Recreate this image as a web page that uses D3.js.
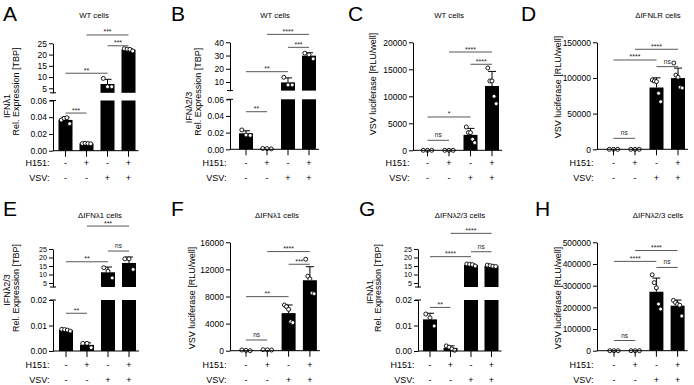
<!DOCTYPE html>
<html><head><meta charset="utf-8">
<script src="https://cdn.jsdelivr.net/npm/d3@7"></script>
<style>body{margin:0;background:#fff}svg{display:block}text{font-family:"Liberation Sans",Arial,sans-serif}</style>
</head><body><svg id="c" width="694" height="385"></svg>
<script>
// ---------- DATA ----------
const groups = ["g1","g2","g3","g4"];
const h151Signs = ["-","+","-","+"];
const vsvSigns = ["-","-","+","+"];

const A_mean = [0.0368, 0.0085, 6.9, 22.2];
const A_sd = [0.0032, 0.0003, 2.1, 0.4];
const A_points = [[0.0367,0.0387,0.0394,0.0323],[0.0085,0.0088,0.0086,0.0082],[9.4,5.7,5.7],[22.6,22.4,22.3,21.6]];
const A_sig = [[0,1,"***",0.045],[0,2,"**",11.7],[1,3,"***",28.7],[2,3,"***",23.9]];
const A_lowTicks = [0,0.02,0.04,0.06];
const A_upTicks = [5,10,15,20,25];

const B_mean = [0.0192, 0.0008, 9.7, 29.9];
const B_sd = [0.003, 0.0002, 3.4, 2.2];
const B_points = [[0.0232,0.0172,0.0167],[0.001,0.0008,0.0005],[13.6,7.8,7.8],[31.8,30.5,27.5]];
const B_sig = [[0,1,"**",0.0451],[0,2,"**",17.8],[1,3,"****",46],[2,3,"***",36.2]];
const B_lowTicks = [0,0.02,0.04,0.06];
const B_upTicks = [10,20,30,40];

const C_mean = [25, 25, 2860, 11910];
const C_sd = [0, 0, 1200, 2700];
const C_points = [[0,0,0],[0,0,0],[4320,3270,3270,2040,1420],[15250,12840,12840,10000,8640]];
const C_sig = [[0,1,"ns",1850],[0,2,"*",6170],[1,3,"****",18200],[2,3,"****",15930]];
const C_ticks = [0,5000,10000,15000,20000];

const D_mean = [100, 100, 86600, 99800];
const D_sd = [0, 0, 13600, 14000];
const D_points = [[0,0,0],[0,0,0],[97200,95800,94900,78500,66800],[121000,104000,101000,87000,86000]];
const D_sig = [[0,1,"ns",15400],[0,2,"****",125200],[1,3,"****",140200],[2,3,"ns",115900]];
const D_ticks = [0,50000,100000,150000];

const E_mean = [0.0082, 0.0024, 11.3, 16.8];
const E_sd = [0.0003, 0.0008, 3.1, 3.5];
const E_points = [[0.0085,0.0084,0.0082,0.0078],[0.003,0.003,0.0013],[14,12,8],[19.2,19.2,13]];
const E_sig = [[0,1,"**",0.0148],[0,2,"**",17.5],[1,3,"***",38.5],[2,3,"ns",23.8]];
const E_lowTicks = [0,0.01,0.02];
const E_upTicks = [5,10,15,20,25];

const F_mean = [60, 120, 5550, 10400];
const F_sd = [0, 0, 1200, 2000];
const F_points = [[100,50,0],[150,120,100],[6750,6500,6100,4280,4140],[13500,11000,10600,8500,8400]];
const F_sig = [[0,1,"ns",1580],[0,2,"**",7980],[1,3,"****",14630],[2,3,"***",12760]];
const F_ticks = [0,4000,8000,12000,16000];

const G_mean = [0.0124, 0.0012, 15.6, 15.0];
const G_sd = [0.0024, 0.0008, 0.5, 0.35];
const G_points = [[0.0145,0.013,0.0098],[0.002,0.0015,0.0008,0.0003],[16.2,16,15.8,15],[15.5,15.2,14.9,14.7]];
const G_sig = [[0,1,"**",0.0171],[0,2,"****",20.5],[1,3,"****",34.2],[2,3,"ns",23.4]];
const G_lowTicks = [0,0.01,0.02];
const G_upTicks = [5,10,15,20,25];

const H_mean = [500, 500, 272000, 207600];
const H_sd = [0, 0, 63000, 26000];
const H_points = [[0,0,0],[0,0,0],[350000,314000,290000,215000,192000],[232000,222000,214000,210000,160000]];
const H_sig = [[0,1,"ns",47000],[0,2,"****",412000],[1,3,"****",462000],[2,3,"ns",384000]];
const H_ticks = [0,100000,200000,300000,400000,500000];

const panelLetters = ["A","B","C","D","E","F","G","H"];
const panelTitles = ["WT cells","WT cells","WT cells","ΔIFNLR cells","ΔIFNλ1 cells","ΔIFNλ1 cells","ΔIFNλ2/3 cells","ΔIFNλ2/3 cells"];
const yTitles = [
  ["IFNλ1","Rel. Expression [TBP]"],
  ["IFNλ2/3","Rel. Expression [TBP]"],
  ["VSV luciferase [RLU/well]"],
  ["VSV luciferase [RLU/well]"],
  ["IFNλ2/3","Rel. Expression [TBP]"],
  ["VSV luciferase [RLU/well]"],
  ["IFNλ1","Rel. Expression [TBP]"],
  ["VSV luciferase [RLU/well]"]
];

// ---------- LAYOUT ----------
const layouts = [
  {broken:true, mean:A_mean, sd:A_sd, pts:A_points, sig:A_sig, lowTicks:A_lowTicks, upTicks:A_upTicks, lowMax:0.06, upMin:3, upMax:25,
   axisX:53, x0:65.5, step:21, yBottom:150.7, lowTop:100.5, upBottom:92.8, upTop:43.3, upFont:8.5,
   letterX:3, letterY:21, titleX:94, titleY:15, ytX:[7,15.7], ytY:[106,91.5], rowY:[163,178]},
  {broken:true, mean:B_mean, sd:B_sd, pts:B_points, sig:B_sig, lowTicks:B_lowTicks, upTicks:B_upTicks, lowMax:0.06, upMin:3.5, upMax:40,
   axisX:230, x0:246, step:21, yBottom:149.3, lowTop:99.3, upBottom:90.6, upTop:42.3, upFont:8.5,
   letterX:171, letterY:21, titleX:275, titleY:15, ytX:[189.3,197.7], ytY:[107.5,91.7], rowY:[163,178]},
  {broken:false, mean:C_mean, sd:C_sd, pts:C_points, sig:C_sig, ticks:C_ticks, max:20000,
   axisX:413, x0:427.5, step:21.5, yBottom:150.3, yTop:42.3,
   letterX:348, letterY:21, titleX:449, titleY:15, ytX:[373], ytY:[84], rowY:[163,178]},
  {broken:false, mean:D_mean, sd:D_sd, pts:D_points, sig:D_sig, ticks:D_ticks, max:150000,
   axisX:597, x0:613.5, step:21.5, yBottom:149.3, yTop:42.3,
   letterX:521, letterY:21, titleX:658, titleY:15, ytX:[557.7], ytY:[87], rowY:[163,178]},
  {broken:true, mean:E_mean, sd:E_sd, pts:E_points, sig:E_sig, lowTicks:E_lowTicks, upTicks:E_upTicks, lowMax:0.02, upMin:2.65, upMax:25,
   axisX:53, x0:66, step:21, yBottom:351, lowTop:300, upBottom:287, upTop:249, upFont:7.2,
   letterX:3, letterY:216, titleX:100, titleY:215, ytX:[6.7,15.7], ytY:[290,288], rowY:[365,380]},
  {broken:false, mean:F_mean, sd:F_sd, pts:F_points, sig:F_sig, ticks:F_ticks, max:16000,
   axisX:230, x0:246, step:21.3, yBottom:350.7, yTop:242.3,
   letterX:171, letterY:216, titleX:277, titleY:215, ytX:[191.7], ytY:[298], rowY:[365,380]},
  {broken:true, mean:G_mean, sd:G_sd, pts:G_points, sig:G_sig, lowTicks:G_lowTicks, upTicks:G_upTicks, lowMax:0.02, upMin:2.65, upMax:25,
   axisX:418, x0:430, step:20.5, yBottom:351, lowTop:300, upBottom:287, upTop:249, upFont:7.2,
   letterX:359, letterY:216, titleX:460, titleY:215, ytX:[370,378.3], ytY:[292,288], rowY:[365,380]},
  {broken:false, mean:H_mean, sd:H_sd, pts:H_points, sig:H_sig, ticks:H_ticks, max:500000,
   axisX:597, x0:614, step:21.2, yBottom:350.7, yTop:242.3,
   letterX:535, letterY:216, titleX:658, titleY:215, ytX:[558], ytY:[298], rowY:[365,380]}
];

const svg = d3.select("#c");
const BW = 14;

function styleAxis(sel, fs){
  sel.select(".domain").attr("stroke","#000").attr("stroke-width",1);
  sel.selectAll(".tick line").attr("stroke","#000");
  sel.selectAll(".tick text").attr("font-family","'Liberation Sans',Arial,sans-serif").attr("font-size",fs || 8.5).attr("fill","#000");
  sel.attr("font-family",null).attr("font-size",null);
}

layouts.forEach((L, pi) => {
  const g = svg.append("g");
  const x = d3.scalePoint().domain(groups).range([L.x0, L.x0 + 3*L.step]);
  let yOf, yLow, yUp, y;
  if (L.broken) {
    yLow = d3.scaleLinear().domain([0, L.lowMax]).range([L.yBottom, L.lowTop]);
    yUp = d3.scaleLinear().domain([L.upMin, L.upMax]).range([L.upBottom, L.upTop]);
    yOf = v => v <= L.lowMax ? yLow(v) : yUp(v);
  } else {
    y = d3.scaleLinear().domain([0, L.max]).range([L.yBottom, L.yTop]);
    yOf = y;
  }
  // bars
  L.mean.forEach((m, i) => {
    const cx = x(groups[i]);
    if (L.broken && m > L.lowMax) {
      g.append("rect").attr("x", cx-BW/2).attr("width", BW).attr("y", L.lowTop).attr("height", L.yBottom-L.lowTop).attr("fill","#000");
      g.append("rect").attr("x", cx-BW/2).attr("width", BW).attr("y", yUp(m)).attr("height", L.upBottom-yUp(m)).attr("fill","#000");
    } else {
      const top = yOf(m);
      g.append("rect").attr("x", cx-BW/2).attr("width", BW).attr("y", top).attr("height", L.yBottom-top).attr("fill","#000");
    }
    const sd = L.sd[i];
    if (sd > 0) {
      const y1 = yOf(m), y2 = yOf(m+sd);
      if (Math.abs(y1-y2) > 0.8) {
        g.append("line").attr("x1",cx).attr("x2",cx).attr("y1",y1).attr("y2",y2).attr("stroke","#000").attr("stroke-width",1);
        g.append("line").attr("x1",cx-4).attr("x2",cx+4).attr("y1",y2).attr("y2",y2).attr("stroke","#000").attr("stroke-width",1);
      }
    }
  });
  // dots
  L.pts.forEach((arr, i) => {
    const cx = x(groups[i]);
    const n = arr.length;
    arr.forEach((v, k) => {
      const off = n > 1 ? -4.2 + 8.4*k/(n-1) : 0;
      g.append("circle").attr("cx", cx+off).attr("cy", yOf(v)).attr("r", 2)
        .attr("fill","#fff").attr("stroke","#000").attr("stroke-width",0.9);
    });
  });
  // y axes
  if (L.broken) {
    const al = g.append("g").attr("transform",`translate(${L.axisX},0)`)
      .call(d3.axisLeft(yLow).tickValues(L.lowTicks).tickFormat(d3.format(".2f")).tickSize(4).tickSizeOuter(0).tickPadding(2));
    styleAxis(al);
    const au = g.append("g").attr("transform",`translate(${L.axisX},0)`)
      .call(d3.axisLeft(yUp).tickValues(L.upTicks).tickFormat(d3.format("d")).tickSize(4).tickSizeOuter(0).tickPadding(2));
    styleAxis(au, L.upFont);
    [L.upBottom, L.lowTop].forEach(yy => {
      g.append("line").attr("x1",L.axisX-3).attr("x2",L.axisX+3).attr("y1",yy).attr("y2",yy).attr("stroke","#000").attr("stroke-width",1);
    });
  } else {
    const a = g.append("g").attr("transform",`translate(${L.axisX},0)`)
      .call(d3.axisLeft(y).tickValues(L.ticks).tickFormat(d3.format("d")).tickSize(4).tickSizeOuter(0).tickPadding(2));
    styleAxis(a);
  }
  // x axis line + ticks
  const xEnd = x(groups[3]) + 10;
  g.append("line").attr("x1",L.axisX).attr("x2",xEnd).attr("y1",L.yBottom).attr("y2",L.yBottom).attr("stroke","#000").attr("stroke-width",1);
  groups.forEach(gr => {
    g.append("line").attr("x1",x(gr)).attr("x2",x(gr)).attr("y1",L.yBottom).attr("y2",L.yBottom+6).attr("stroke","#000").attr("stroke-width",1);
  });
  // significance
  L.sig.forEach(([i, j, lab, lev]) => {
    const yy = yOf(lev);
    const x1 = x(groups[i]), x2 = x(groups[j]);
    g.append("line").attr("x1",x1).attr("x2",x2).attr("y1",yy).attr("y2",yy).attr("stroke","#444").attr("stroke-width",0.9);
    g.append("text").attr("x",(x1+x2)/2).attr("y", lab === "ns" ? yy-3 : yy-0.5).attr("text-anchor","middle")
      .attr("font-size", lab === "ns" ? 6.5 : 7).attr("fill","#222").text(lab);
  });
  // condition rows
  [[ "H151:", h151Signs ], [ "VSV:", vsvSigns ]].forEach(([lab, signs], r) => {
    const yy = L.rowY[r];
    g.append("text").attr("x", L.axisX-3.5).attr("y", yy).attr("dy","0.35em").attr("text-anchor","end").attr("font-size",9).text(lab);
    signs.forEach((s, i) => {
      g.append("text").attr("x", x(groups[i])).attr("y", yy).attr("dy","0.35em").attr("text-anchor","middle").attr("font-size",9).text(s);
    });
  });
  // y titles
  yTitles[pi].forEach((t, k) => {
    g.append("text").attr("transform",`translate(${L.ytX[k]},${L.ytY[k]}) rotate(-90)`)
      .attr("text-anchor","middle").attr("dy","0.35em").attr("font-size",9).text(t);
  });
  // title & letter
  g.append("text").attr("x",L.titleX).attr("y",L.titleY).attr("dy","0.35em").attr("text-anchor","middle").attr("font-size",7.8).text(panelTitles[pi]);
  g.append("text").attr("x",L.letterX).attr("y",L.letterY).attr("font-size",21).text(panelLetters[pi]);
});
</script></body></html>
